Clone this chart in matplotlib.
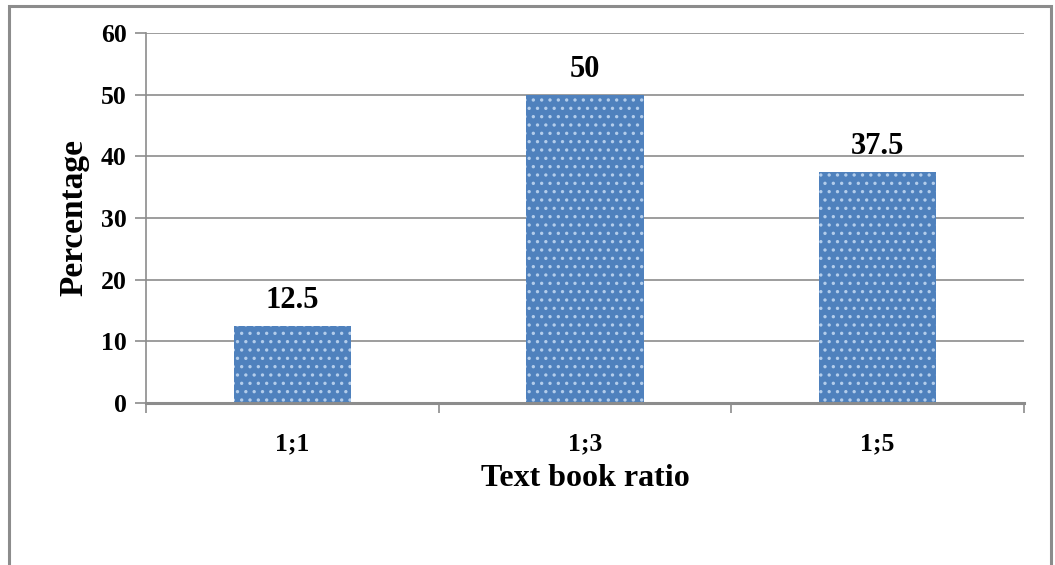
import matplotlib
matplotlib.use("Agg")
import matplotlib.pyplot as plt
from matplotlib.patches import Rectangle
import numpy as np

categories = ["1;1", "1;3", "1;5"]
percentages = [12.5, 50, 37.5]
value_labels = ["12.5", "50", "37.5"]
y_ticks = [0, 10, 20, 30, 40, 50, 60]

plt.rcParams["font.family"] = ["Liberation Serif", "DejaVu Serif"]
plt.rcParams["font.weight"] = "bold"
plt.rcParams["hatch.linewidth"] = 1.2

W, H = 1055, 565
fig = plt.figure(figsize=(W / 100, H / 100), dpi=100)
fig.patch.set_facecolor("white")

# outer chart frame
fig.patches.append(Rectangle((9 / W, -0.05), (1051 - 9) / W, 1.05 - 6 / H,
                             transform=fig.transFigure, fill=False,
                             edgecolor="#8c8c8c", linewidth=2.2))

ax = fig.add_axes([146 / W, 1 - 403 / H, (1024 - 146) / W, (403 - 33) / H])

x = np.arange(len(categories))
# dotted fill: hatch takes the edge colour, the edge itself is not stroked
ax.bar(x, percentages, width=0.4, color="#4f81bd", edgecolor="#b3cdeb",
       hatch="..", linewidth=0, zorder=3)

for xi, v, lab in zip(x, percentages, value_labels):
    ax.text(xi, v + 1.8, lab, ha="center", va="bottom",
            fontsize=22, fontweight="bold")

ax.set_xlim(-0.5, len(categories) - 0.5)
ax.set_ylim(0, 60)
ax.set_yticks(y_ticks)
ax.set_yticklabels([str(t) for t in y_ticks], fontsize=18.5, fontweight="bold")
ax.yaxis.grid(True, color="#8c8c8c", linewidth=1.2, zorder=0)

ax.set_xticks(x)
ax.set_xticklabels(categories, fontsize=18.5, fontweight="bold")
ax.set_xticks(np.arange(-0.5, len(categories)), minor=True)
ax.tick_params(axis="x", which="major", length=0, pad=21)
ax.tick_params(axis="x", which="minor", length=7, width=1.2, color="#8c8c8c")
ax.tick_params(axis="y", length=8, width=1.2, color="#8c8c8c", pad=6)

for side in ["top", "right"]:
    ax.spines[side].set_visible(False)
ax.spines["left"].set_color("#8c8c8c")
ax.spines["left"].set_linewidth(1.2)
ax.spines["bottom"].set_color("#8c8c8c")
ax.spines["bottom"].set_linewidth(2.2)
ax.spines["bottom"].set_zorder(4)

ax.set_xlabel("Text book ratio", fontsize=23, fontweight="bold", labelpad=6)
ax.set_ylabel("Percentage", fontsize=24, fontweight="bold", labelpad=8)

fig.savefig("out.png", dpi=100)
